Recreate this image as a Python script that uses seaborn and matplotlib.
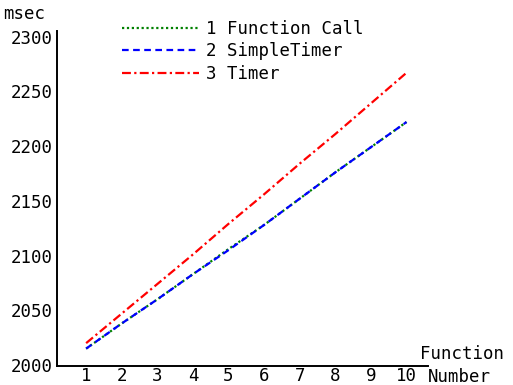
import matplotlib
matplotlib.use("Agg")
import matplotlib.pyplot as plt
import seaborn as sns
import pandas as pd

x = [1, 2, 3, 4, 5, 6, 7, 8, 9, 10]
function_call = [2015, 2038, 2060, 2083, 2106, 2128, 2152, 2176, 2199, 2222]
simple_timer = [2015, 2038, 2060, 2083, 2105, 2128, 2152, 2176, 2199, 2222]
timer = [2020, 2047, 2074, 2101, 2129, 2156, 2184, 2211, 2239, 2267]
labels = ["1 Function Call", "2 SimpleTimer", "3 Timer"]
y_ticks = [2000, 2050, 2100, 2150, 2200, 2250, 2300]

sns.set_style("white")
plt.rcParams["font.family"] = ["DejaVu Sans Mono"]
plt.rcParams["font.size"] = 12.5
plt.rcParams["text.color"] = "black"

fig = plt.figure(figsize=(5.13, 3.85), dpi=100)
ax = fig.add_axes([0.111, 0.049, 0.723, 0.870])

series = [
    (function_call, "#008000", (0, (1, 1.2))),
    (simple_timer, "#0000ff", (0, (3, 2))),
    (timer, "#ff0000", (0, (4, 1.5, 1, 1.5))),
]
for (vals, col, ls), lab in zip(series, labels):
    df = pd.DataFrame({"x": x, "y": vals})
    sns.lineplot(data=df, x="x", y="y", ax=ax, color=col, linestyle=ls,
                 linewidth=1.6, label=lab)

ax.set_xlim(0.18, 10.6)
ax.set_ylim(1999, 2305)
ax.set_xticks(x)
ax.set_yticks(y_ticks)
ax.set_xlabel("")
ax.set_ylabel("")
for s in ["top", "right"]:
    ax.spines[s].set_visible(False)
for s in ["left", "bottom"]:
    ax.spines[s].set_color("black")
    ax.spines[s].set_linewidth(1.4)
ax.tick_params(direction="in", length=5, width=1, color="#808080",
               labelsize=12.5, pad=3, labelcolor="black")
ax.tick_params(axis="x", pad=0.5)

leg = ax.legend(loc="upper left", bbox_to_anchor=(0.225, 0.966), bbox_transform=fig.transFigure,
                frameon=False, handlelength=4.4, handletextpad=0.4,
                labelspacing=0.25, fontsize=12.5, borderaxespad=0)
for t in leg.get_texts():
    t.set_color("black")

fig.text(0.006, 0.963, "msec", ha="left", va="center", fontsize=12.5, color="black")
fig.text(0.818, 0.08, "Function", ha="left", va="center", fontsize=12.5, color="black")
fig.text(0.834, 0.02, "Number", ha="left", va="center", fontsize=12.5, color="black")

fig.savefig("out.png", dpi=100)
